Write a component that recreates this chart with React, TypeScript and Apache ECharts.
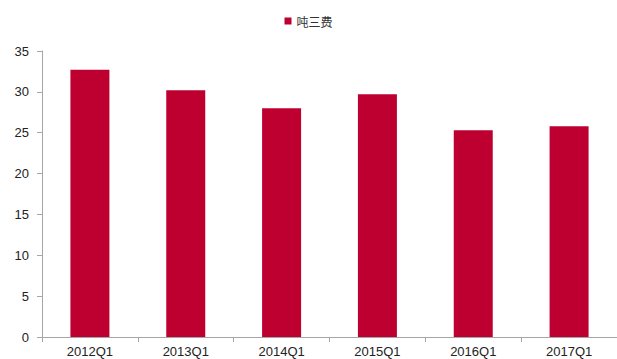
import React, { useEffect, useRef } from "react";
import * as echarts from "echarts";

const categories = ["2012Q1", "2013Q1", "2014Q1", "2015Q1", "2016Q1", "2017Q1"];
const seriesName = "吨三费";
const values = [32.7, 30.2, 28.0, 29.7, 25.3, 25.8];

export default function App() {
  const ref = useRef<HTMLDivElement>(null);
  useEffect(() => {
    if (!ref.current) return;
    const chart = echarts.init(ref.current, null, { renderer: "svg" });
    chart.setOption({
      animation: false,
      backgroundColor: "#ffffff",
      legend: {
        top: 10,
        left: "center",
        itemWidth: 7,
        itemHeight: 7,
        icon: "rect",
        itemGap: 5,
        textStyle: { fontSize: 12, color: "#333", fontFamily: "Noto Sans CJK SC" },
        data: [seriesName],
      },
      grid: { left: 42, right: -3, top: 51, bottom: 22, containLabel: false },
      xAxis: {
        type: "category",
        data: categories,
        axisLine: { lineStyle: { color: "#a6a6a6" } },
        axisTick: { show: true, length: 5, lineStyle: { color: "#a6a6a6" } },
        axisLabel: { color: "#222", fontSize: 13, fontFamily: "Liberation Sans, Arial", margin: 8 },
      },
      yAxis: {
        type: "value",
        min: 0,
        max: 35,
        interval: 5,
        axisLine: { show: true, lineStyle: { color: "#a6a6a6" } },
        axisTick: { show: true, length: 5, lineStyle: { color: "#a6a6a6" } },
        splitLine: { show: false },
        axisLabel: { color: "#222", fontSize: 13, fontFamily: "Liberation Sans, Arial", margin: 13 },
      },
      series: [
        {
          name: seriesName,
          type: "bar",
          data: values,
          barWidth: 39,
          itemStyle: { color: "#BE0030" },
        },
      ],
    });
    return () => chart.dispose();
  }, []);
  return <div ref={ref} style={{ width: 617, height: 359, position: "absolute", left: 0, top: 0 }} />;
}
